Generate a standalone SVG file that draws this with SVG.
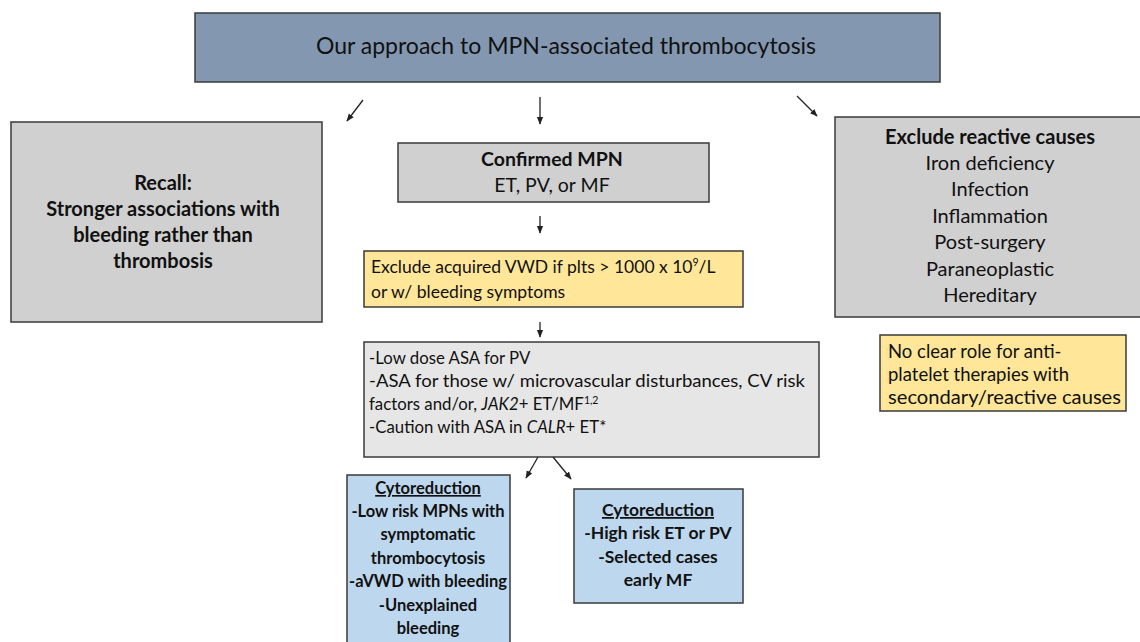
<svg xmlns="http://www.w3.org/2000/svg" width="1140" height="642" viewBox="0 0 1140 642">
<defs>
<style>
text{font-family:Lato,"Open Sans","Liberation Sans",sans-serif;fill:#111}
.box{stroke:#3a3a3a;stroke-width:1.5}
.b{font-weight:bold}
.c{text-anchor:middle}
.conn line{stroke:#222;stroke-width:1.3;marker-end:url(#ah)}
</style>
<marker id="ah" viewBox="0 0 10 10" refX="9" refY="5" markerWidth="6" markerHeight="6" orient="auto"><path d="M0,1 L10,5 L0,9 z" fill="#222"/></marker>
</defs>
<rect width="1140" height="642" fill="#fff"/>
<g id="title"><rect class="box" x="195" y="13" width="745" height="69" fill="#8497b0"/>
<text class="c" x="566" y="54" font-size="23">Our approach to MPN-associated thrombocytosis</text></g>
<g id="recall"><rect class="box" x="11" y="122" width="311" height="200" fill="#d0d0d0"/>
<text class="c b" font-size="20"><tspan x="163" y="190">Recall:</tspan><tspan x="163" y="216">Stronger associations with</tspan><tspan x="163" y="242">bleeding rather than</tspan><tspan x="163" y="268">thrombosis</tspan></text></g>
<g id="confirmed"><rect class="box" x="398" y="143" width="311" height="59" fill="#d0d0d0"/>
<text class="c" font-size="19.5"><tspan class="b" x="552" y="166">Confirmed MPN</tspan><tspan x="552" y="192">ET, PV, or MF</tspan></text></g>
<g id="vwd"><rect class="box" x="364" y="251" width="379" height="56" fill="#ffe699"/>
<text font-size="17.5"><tspan x="371" y="273">Exclude acquired VWD if plts &gt; 1000 x 10<tspan font-size="10.5" dy="-7">9</tspan><tspan dy="7">/L</tspan></tspan><tspan x="371" y="298">or w/ bleeding symptoms</tspan></text></g>
<g id="asa"><rect class="box" x="364" y="342" width="455" height="115" fill="#e6e6e6"/>
<text font-size="16.8"><tspan x="369" y="364">-Low dose ASA for PV</tspan><tspan x="369" y="387" textLength="436" lengthAdjust="spacingAndGlyphs">-ASA for those w/ microvascular disturbances, CV risk</tspan><tspan x="369" y="410">factors and/or, <tspan font-style="italic">JAK2</tspan>+ ET/MF<tspan font-size="10.5" dy="-6">1,2</tspan></tspan><tspan x="369" y="433">-Caution with ASA in <tspan font-style="italic">CALR</tspan>+ ET*</tspan></text></g>
<g id="reactive"><rect class="box" x="835" y="117" width="310" height="200" fill="#d0d0d0"/>
<text class="c" font-size="20"><tspan class="b" x="990" y="144">Exclude reactive causes</tspan><tspan x="990" y="170">Iron deficiency</tspan><tspan x="990" y="196">Infection</tspan><tspan x="990" y="223">Inflammation</tspan><tspan x="990" y="249">Post-surgery</tspan><tspan x="990" y="276">Paraneoplastic</tspan><tspan x="990" y="302">Hereditary</tspan></text></g>
<g id="norole"><rect class="box" x="880" y="335" width="246" height="76" fill="#ffe699"/>
<text font-size="18.5"><tspan x="888" y="358">No clear role for anti-</tspan><tspan x="888" y="381">platelet therapies with</tspan><tspan x="888" y="404" textLength="233" lengthAdjust="spacingAndGlyphs">secondary/reactive causes</tspan></text></g>
<g id="cyto1"><rect class="box" x="347" y="475" width="163" height="180" fill="#bdd7ee"/>
<text class="c b" font-size="16.5"><tspan x="428" y="494" text-decoration="underline">Cytoreduction</tspan><tspan x="428" y="517">-Low risk MPNs with</tspan><tspan x="428" y="540">symptomatic</tspan><tspan x="428" y="564">thrombocytosis</tspan><tspan x="428" y="587">-aVWD with bleeding</tspan><tspan x="428" y="611">-Unexplained</tspan><tspan x="428" y="634">bleeding</tspan></text></g>
<g id="cyto2"><rect class="box" x="574" y="489" width="169" height="114" fill="#bdd7ee"/>
<text class="c b" font-size="17.5"><tspan x="658" y="516" text-decoration="underline">Cytoreduction</tspan><tspan x="658" y="539">-High risk ET or PV</tspan><tspan x="658" y="563">-Selected cases</tspan><tspan x="658" y="586">early MF</tspan></text></g>
<g class="conn" id="connectors">
<line x1="363" y1="100" x2="347" y2="121"/>
<line x1="540" y1="97" x2="540" y2="124"/>
<line x1="797" y1="96" x2="817" y2="116"/>
<line x1="540" y1="216" x2="540" y2="233"/>
<line x1="540" y1="322" x2="540" y2="337"/>
<line x1="538" y1="457" x2="526" y2="478"/>
<line x1="553" y1="457" x2="571" y2="479"/>
</g>
</svg>
